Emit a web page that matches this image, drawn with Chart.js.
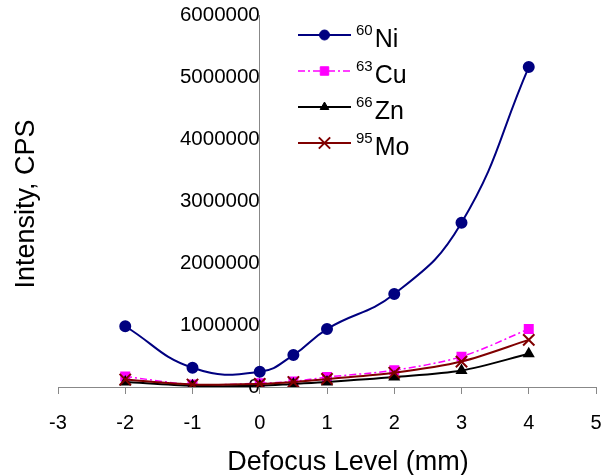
<!DOCTYPE html>
<html>
<head>
<meta charset="utf-8">
<script src="https://cdn.jsdelivr.net/npm/chart.js@4/dist/chart.umd.min.js"></script>
<style>
html,body{margin:0;padding:0;background:#fff;}
#wrap{width:602px;height:475px;position:relative;}
</style>
</head>
<body>
<div id="wrap"><canvas id="c" width="602" height="475"></canvas></div>
<script>
// Data
const defocus = [-2, -1, 0, 0.5, 1, 2, 3, 4];
const ni60 = [980000, 310000, 245000, 515000, 935000, 1500000, 2650000, 5160000];
const cu63 = [170000, 40000, 60000, 90000, 160000, 270000, 490000, 935000];
const zn66 = [80000, 20000, 20000, 50000, 80000, 160000, 265000, 535000];
const mo95 = [120000, 40000, 50000, 80000, 130000, 230000, 410000, 760000];
const isotopes = ['60', '63', '66', '95'];
const elements = ['Ni', 'Cu', 'Zn', 'Mo'];
const xTicks = [-3, -2, -1, 0, 1, 2, 3, 4, 5];
const yTicks = [0, 1000000, 2000000, 3000000, 4000000, 5000000, 6000000];

const FONT = "'Liberation Sans', Arial, sans-serif";
const toPts = arr => arr.map((v, i) => ({x: defocus[i], y: v}));

const datasets = [
  {label: isotopes[0] + elements[0], data: toPts(ni60), borderColor: '#000080', backgroundColor: '#000080',
   borderWidth: 2, pointStyle: 'circle', pointRadius: 5, tension: 0.45, order: 4},
  {label: isotopes[1] + elements[1], data: toPts(cu63), borderColor: '#FF00FF', backgroundColor: '#FF00FF',
   borderWidth: 1.5, borderDash: [7, 3, 2, 3], pointStyle: 'rect', pointRadius: 6, tension: 0.3, order: 3},
  {label: isotopes[2] + elements[2], data: toPts(zn66), borderColor: '#000000', backgroundColor: '#000000',
   borderWidth: 2, pointStyle: 'triangle', pointRadius: 5, tension: 0.3, order: 2},
  {label: isotopes[3] + elements[3], data: toPts(mo95), borderColor: '#800000', backgroundColor: '#800000',
   borderWidth: 2, pointStyle: 'crossRot', pointRadius: 8, pointBorderWidth: 2, tension: 0.3, order: 1}
];

const customText = {
  id: 'customText',
  afterDraw(chart) {
    const ctx = chart.ctx;
    ctx.save();
    // Legend
    const lx1 = 298, lx2 = 351, y0 = 35, dy = 36;
    datasets.forEach((ds, i) => {
      const y = y0 + dy * i;
      ctx.strokeStyle = ds.borderColor;
      ctx.lineWidth = ds.borderWidth;
      ctx.setLineDash(ds.borderDash || []);
      ctx.beginPath(); ctx.moveTo(lx1, y); ctx.lineTo(lx2, y); ctx.stroke();
      ctx.setLineDash([]);
      ctx.fillStyle = ds.backgroundColor;
      ctx.strokeStyle = ds.borderColor;
      ctx.lineWidth = ds.pointBorderWidth || 1;
      Chart.helpers.drawPoint(ctx, {pointStyle: ds.pointStyle, radius: ds.pointRadius, rotation: 0, borderWidth: ds.pointBorderWidth || 1}, (lx1 + lx2) / 2, y);
      ctx.fillStyle = '#000';
      ctx.textAlign = 'left';
      ctx.textBaseline = 'alphabetic';
      ctx.font = '15px ' + FONT;
      ctx.fillText(isotopes[i], 356, y - 0.5);
      const w = ctx.measureText(isotopes[i]).width;
      ctx.font = '25px ' + FONT;
      ctx.fillText(elements[i], 356 + w + 2, y + 11.5);
    });
    // Axis titles
    ctx.fillStyle = '#000';
    ctx.font = '27px ' + FONT;
    ctx.textAlign = 'center';
    ctx.textBaseline = 'alphabetic';
    ctx.fillText('Defocus Level (mm)', 348, 470);
    ctx.translate(34, 204);
    ctx.rotate(-Math.PI / 2);
    ctx.fillText('Intensity, CPS', 0, 0);
    ctx.restore();
  }
};

new Chart(document.getElementById('c'), {
  type: 'line',
  data: {datasets},
  options: {
    responsive: false,
    animation: false,
    devicePixelRatio: 1,
    layout: {autoPadding: false, padding: {left: 58, right: 6, top: 15, bottom: 23}},
    plugins: {legend: {display: false}, tooltip: {enabled: false}},
    scales: {
      x: {
        type: 'linear', position: 'bottom', min: -3, max: 5,
        afterBuildTicks: s => { s.ticks = xTicks.map(v => ({value: v})); },
        afterFit: s => { s.paddingLeft = 0; s.paddingRight = 0; },
        grid: {display: true, drawOnChartArea: false, drawTicks: true, tickLength: 7, color: '#888'},
        border: {display: true, color: '#888', width: 1},
        ticks: {color: '#000', font: {family: FONT, size: 20}, padding: 17, maxRotation: 0, autoSkip: false,
                callback: v => String(v)}
      },
      y: {
        type: 'linear', position: {x: 0}, min: 0, max: 6000000,
        afterBuildTicks: s => { s.ticks = yTicks.map(v => ({value: v})); },
        afterFit: s => { s.paddingTop = 0; s.paddingBottom = 0; },
        grid: {display: false},
        border: {display: true, color: '#888', width: 1},
        ticks: {color: '#000', font: {family: FONT, size: 20.5}, padding: 0, autoSkip: false,
                callback: v => String(v)}
      }
    }
  },
  plugins: [customText]
});
</script>
</body>
</html>
